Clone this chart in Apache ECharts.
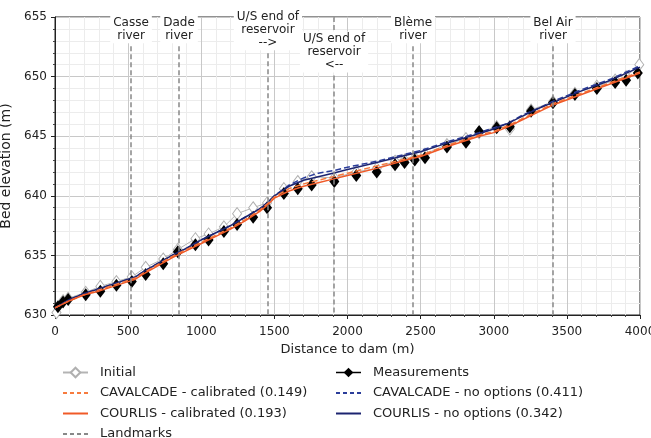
<!DOCTYPE html>
<html><head><meta charset="utf-8">
<script src="https://cdn.jsdelivr.net/npm/echarts@6/dist/echarts.min.js"></script>
<style>html,body{margin:0;padding:0;background:#fff}#c{width:651px;height:438px}</style>
</head><body><div id="c"></div>
<script>
// Distances (m) and bed elevations (m)
const measX = [20,55,90,210,310,420,525,620,740,840,960,1050,1155,1245,1355,1450,1565,1660,1755,1910,2060,2200,2325,2390,2460,2530,2680,2810,2900,3020,3110,3255,3405,3555,3705,3830,3905,3985];
const measY = [630.7,631.1,631.3,631.7,632.0,632.5,632.8,633.4,634.3,635.3,635.9,636.3,637.0,637.6,638.2,639.0,640.2,640.6,640.9,641.2,641.7,642.0,642.6,642.8,643.0,643.2,644.1,644.5,645.4,645.7,645.8,647.1,647.8,648.5,649.0,649.5,649.7,650.3];
const initX = [10,55,90,210,310,420,525,620,740,840,960,1050,1155,1245,1355,1450,1565,1660,1755,1910,2060,2200,2325,2390,2460,2530,2680,2810,2900,3020,3110,3255,3405,3555,3705,3830,3905,3995];
const initY = [630.2,631.2,631.4,631.9,632.4,632.8,633.2,634.0,634.7,635.5,636.4,636.8,637.4,638.5,639.0,639.4,640.6,641.2,641.6,641.5,642.0,642.3,642.9,643.0,643.2,643.5,644.3,644.8,645.3,645.8,645.6,647.2,647.9,648.6,649.2,649.7,650.0,651.0];
const modelX = [0,100,200,300,400,500,550,600,700,800,900,1000,1100,1200,1300,1400,1450,1500,1600,1700,1800,1900,2000,2200,2400,2500,2700,2900,3000,3100,3200,3300,3400,3600,3800,4000];
const cavCal  = [630.6,631.2,631.7,632.1,632.5,632.9,633.1,633.5,634.2,634.9,635.5,636.1,636.7,637.3,638.0,638.8,639.3,639.9,640.6,641.0,641.3,641.6,641.9,642.5,643.1,643.4,644.3,645.1,645.4,645.9,646.5,647.1,647.7,648.6,649.5,650.4];
const courCal = [630.6,631.2,631.7,632.0,632.4,632.8,633.0,633.4,634.1,634.8,635.4,636.0,636.6,637.2,637.9,638.7,639.2,639.8,640.4,640.8,641.1,641.4,641.7,642.3,643.0,643.3,644.2,645.0,645.3,645.8,646.4,647.0,647.6,648.5,649.4,650.3];
const cavNo   = [630.6,631.3,631.8,632.2,632.6,633.0,633.2,633.6,634.3,635.0,635.6,636.3,636.9,637.5,638.2,638.9,639.4,640.0,640.9,641.5,641.9,642.1,642.4,642.9,643.5,643.8,644.6,645.3,645.7,646.1,646.8,647.3,647.9,648.9,649.8,650.9];
const courNo  = [630.6,631.3,631.8,632.2,632.6,633.0,633.2,633.6,634.3,635.0,635.6,636.3,636.9,637.5,638.2,638.9,639.4,640.0,640.8,641.3,641.6,641.9,642.2,642.8,643.4,643.7,644.5,645.2,645.6,646.1,646.7,647.3,647.8,648.8,649.7,650.8];
const landmarkX = [520,848,1456,1908,2448,3405];
const landmarkTop = [652.55,652.55,651.95,650.1,652.55,652.55];
const landmarkLabels = ['Casse\nriver','Dade\nriver','U/S end of\nreservoir\n-->','U/S end of\nreservoir\n<--','Blème\nriver','Bel Air\nriver'];
const xTicks = [0,500,1000,1500,2000,2500,3000,3500,4000];
const yTicks = [630,635,640,645,650,655];

const FONT = 'DejaVu Sans';
const zip = (xs, ys) => xs.map((x, i) => [x, ys[i]]);
const chart = echarts.init(document.getElementById('c'), null, {renderer: 'canvas'});

const lineSeries = (name, xs, ys, color, type, width) => ({
  name, type: 'line', data: zip(xs, ys), showSymbol: false, symbol: 'none',
  lineStyle: {color, type, width}, itemStyle: {color}, z: 4, animation: false
});

const legendText = {fontFamily: FONT, fontSize: 13, color: '#222', padding: [0, 0, 0, 7]};
const noSym = {opacity: 0};

const option = {
  animation: false,
  textStyle: {fontFamily: FONT},
  grid: {left: 55, right: 11, top: 17, bottom: 123, containLabel: false, outerBoundsMode: 'none',
         show: true, borderColor: '#222', borderWidth: 1, backgroundColor: 'transparent'},
  xAxis: {
    type: 'value', min: xTicks[0], max: xTicks[xTicks.length - 1], interval: 500,
    name: 'Distance to dam (m)', nameLocation: 'middle', nameGap: 28,
    nameTextStyle: {fontFamily: FONT, fontSize: 13, color: '#222'},
    axisLine: {show: true, lineStyle: {color: '#222'}},
    axisTick: {show: true, length: 4, inside: false, lineStyle: {color: '#222'}},
    minorTick: {show: true, splitNumber: 5, length: 2, lineStyle: {color: '#444'}},
    axisLabel: {fontFamily: FONT, fontSize: 12, color: '#222', margin: 11, formatter: v => String(v)},
    splitLine: {show: true, lineStyle: {color: '#c8c8c8', width: 1}},
    minorSplitLine: {show: true, lineStyle: {color: '#ececec', width: 1}}
  },
  yAxis: {
    type: 'value', min: yTicks[0], max: yTicks[yTicks.length - 1], interval: 5,
    name: 'Bed elevation (m)', nameLocation: 'middle', nameGap: 31, nameRotate: 90,
    nameTextStyle: {fontFamily: FONT, fontSize: 14, color: '#222'},
    axisLine: {show: true, lineStyle: {color: '#222'}},
    axisTick: {show: true, length: 4, lineStyle: {color: '#222'}},
    minorTick: {show: true, splitNumber: 5, length: 2, lineStyle: {color: '#444'}},
    axisLabel: {fontFamily: FONT, fontSize: 12, color: '#222', margin: 8, formatter: v => String(v)},
    splitLine: {show: true, lineStyle: {color: '#c8c8c8', width: 1}},
    minorSplitLine: {show: true, lineStyle: {color: '#ececec', width: 1}}
  },
  legend: [
    {
      orient: 'vertical', left: 62, top: 366, height: 80, padding: 0,
      itemWidth: 25, itemHeight: 12, itemGap: 7.5,
      textStyle: legendText,
      data: [
        {name: 'Initial'},
        {name: 'CAVALCADE - calibrated (0.149)', itemStyle: noSym, lineStyle: {type: [4, 3]}},
        {name: 'COURLIS - calibrated (0.193)', itemStyle: noSym},
        {name: 'Landmarks', itemStyle: noSym, lineStyle: {type: [4, 3]}}
      ]
    },
    {
      orient: 'vertical', left: 335, top: 366, height: 80, padding: 0,
      itemWidth: 25, itemHeight: 12, itemGap: 7.5,
      textStyle: legendText,
      data: [
        {name: 'Measurements', lineStyle: {width: 1.5, opacity: 1, color: '#000'}},
        {name: 'CAVALCADE - no options (0.411)', itemStyle: noSym, lineStyle: {type: [4, 3]}},
        {name: 'COURLIS - no options (0.342)', itemStyle: noSym}
      ]
    }
  ],
  series: [
    {
      name: 'Initial', type: 'line', data: zip(initX, initY),
      symbol: 'diamond', symbolSize: [9, 12], showAllSymbol: true,
      lineStyle: {color: '#b4b4b4', width: 1}, itemStyle: {color: '#ffffff', borderColor: '#b0b0b0', borderWidth: 1},
      z: 2
    },
    {
      name: 'Measurements', type: 'line', data: zip(measX, measY),
      symbol: 'diamond', symbolSize: [10, 13], showAllSymbol: true,
      lineStyle: {color: '#000', width: 0, opacity: 0}, itemStyle: {color: '#000'},
      z: 3
    },
    lineSeries('CAVALCADE - no options (0.411)', modelX, cavNo, '#2b3d9a', 'dashed', 1.5),
    lineSeries('COURLIS - no options (0.342)', modelX, courNo, '#1c2470', 'solid', 1.5),
    lineSeries('CAVALCADE - calibrated (0.149)', modelX, cavCal, '#f77b3e', 'dashed', 1.5),
    lineSeries('COURLIS - calibrated (0.193)', modelX, courCal, '#f05a28', 'solid', 1.5),
    {
      name: 'Landmarks', type: 'line', data: [], clip: false,
      lineStyle: {color: '#888', type: [4, 3], width: 1.5}, itemStyle: {color: '#888'},
      symbol: 'none', z: 1,
      markLine: {
        silent: true, symbol: ['none', 'none'], animation: false,
        lineStyle: {color: '#888', type: [5, 3], width: 1.5},
        label: {
          show: true, position: 'start', fontFamily: FONT, fontSize: 12, color: '#222',
          lineHeight: 13, backgroundColor: '#ffffff', padding: [1, 3, 1, 3], align: 'center', distance: 3
        },
        data: landmarkX.map((x, i) => [
          {coord: [x, landmarkTop[i]], label: {formatter: landmarkLabels[i]}},
          {coord: [x, yTicks[0]]}
        ]).concat([[
          {coord: [landmarkX[3], yTicks[yTicks.length - 1]], label: {show: false}},
          {coord: [landmarkX[3], 653.4]}
        ]])
      }
    }
  ]
};
chart.setOption(option);
</script></body></html>
